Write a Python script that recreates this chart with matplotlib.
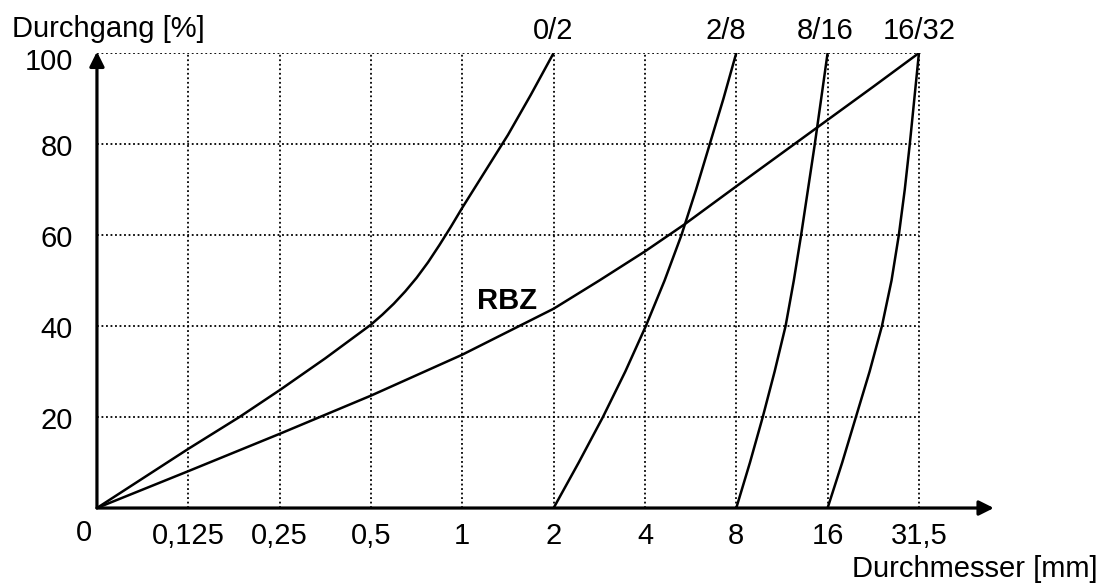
import matplotlib.pyplot as plt
import matplotlib.transforms as mtransforms
import numpy as np

plt.rcParams['font.family'] = ['Liberation Sans', 'DejaVu Sans']

# sieve sizes, equally spaced on the x axis (position 0 = origin)
sieve_labels = ['0,125', '0,25', '0,5', '1', '2', '4', '8', '16', '31,5']
y_ticks = [20, 40, 60, 80, 100]

# grading curves, x in sieve steps (1 = 0,125 mm ... 9 = 31,5 mm), y = Durchgang [%]
x_02 = [0, 1, 1.56, 2, 2.5, 3, 3.125, 3.25, 3.375, 3.5, 3.625, 3.75, 3.875, 4, 4.25, 4.5, 4.75, 5]
y_02 = [0, 13, 20, 25.9, 32.9, 40.3, 42.5, 44.9, 47.6, 50.6, 54, 57.8, 61.8, 66, 74, 82, 90.8, 100]

y_steps = [0, 10, 20, 30, 40, 50, 60, 70, 80, 90, 100]
x_28 = [5, 5.275, 5.54, 5.785, 6.01, 6.215, 6.40, 6.56, 6.71, 6.86, 7]
x_816 = [7, 7.15, 7.29, 7.42, 7.54, 7.63, 7.71, 7.785, 7.86, 7.93, 8]
x_1632 = [8, 8.16, 8.31, 8.46, 8.595, 8.70, 8.78, 8.845, 8.90, 8.95, 9]

x_rbz = [0, 1, 2, 3, 4, 5, 5.5, 6, 6.43, 7, 7.5, 8, 8.5, 9]
y_rbz = [0, 8.1, 16.3, 24.7, 33.7, 43.8, 50.0, 56.4, 62.3, 70.7, 78, 85.3, 92.6, 100]

curve_names = ['0/2', '2/8', '8/16', '16/32']
name_x = [5, 6.89, 7.97, 9]

fs = 21

fig = plt.figure(figsize=(11.03, 5.84), dpi=100)
ax = fig.add_axes([0.0879, 0.1301, 0.8156, 0.7791])
ax.set_xlim(0, 9.85)
ax.set_ylim(0, 100)

# dotted grid
n = len(sieve_labels)
ax.vlines(np.arange(1, n + 1), 0, 100, colors='k', linestyles=(0, (1, 1.5)), lw=1.3)
ax.hlines(y_ticks, 0, n, colors='k', linestyles=(0, (1, 1.5)), lw=1.3)

for xs, ys in [(x_02, y_02), (x_28, y_steps), (x_816, y_steps), (x_1632, y_steps), (x_rbz, y_rbz)]:
    ax.plot(xs, ys, color='k', lw=1.8, solid_joinstyle='round')

# axes as arrows
arr = dict(arrowstyle='-|>', lw=2.3, color='k', mutation_scale=22, shrinkA=0, shrinkB=0)
ax.annotate('', xy=(0, 100.3), xytext=(0, 0), arrowprops=arr, annotation_clip=False)
ax.annotate('', xy=(9.82, 0), xytext=(0, 0), arrowprops=arr, annotation_clip=False)

for s in ax.spines.values():
    s.set_visible(False)

ax.set_xticks(np.arange(1, n + 1))
ax.set_xticklabels(sieve_labels)
ax.set_yticks([])
ax.tick_params(length=0, labelsize=fs)
ax.tick_params(axis='x', pad=10)

# y labels sit a little below their grid lines
for v in y_ticks:
    off = 9 if v == 100 else 4
    tr = ax.get_yaxis_transform() + mtransforms.ScaledTranslation(0, -off / 100, fig.dpi_scale_trans)
    ax.text(-0.027, v, str(v), transform=tr, fontsize=fs, ha='right', va='center')

ax.text(-0.14, -5.5, '0', fontsize=fs, ha='center', va='center')

for name, xp in zip(curve_names, name_x):
    ax.text(xp, 103.1, name, fontsize=fs, ha='center', va='baseline')

ax.text(4.49, 45.5, 'RBZ', fontsize=fs, fontweight='bold', ha='center', va='center')

fig.text(12 / 1103, 1 - 37 / 584, 'Durchgang [%]', fontsize=fs, ha='left', va='baseline')
fig.text(1098 / 1103, 1 - 577 / 584, 'Durchmesser [mm]', fontsize=fs, ha='right', va='baseline')

fig.savefig('out.png', dpi=100)
